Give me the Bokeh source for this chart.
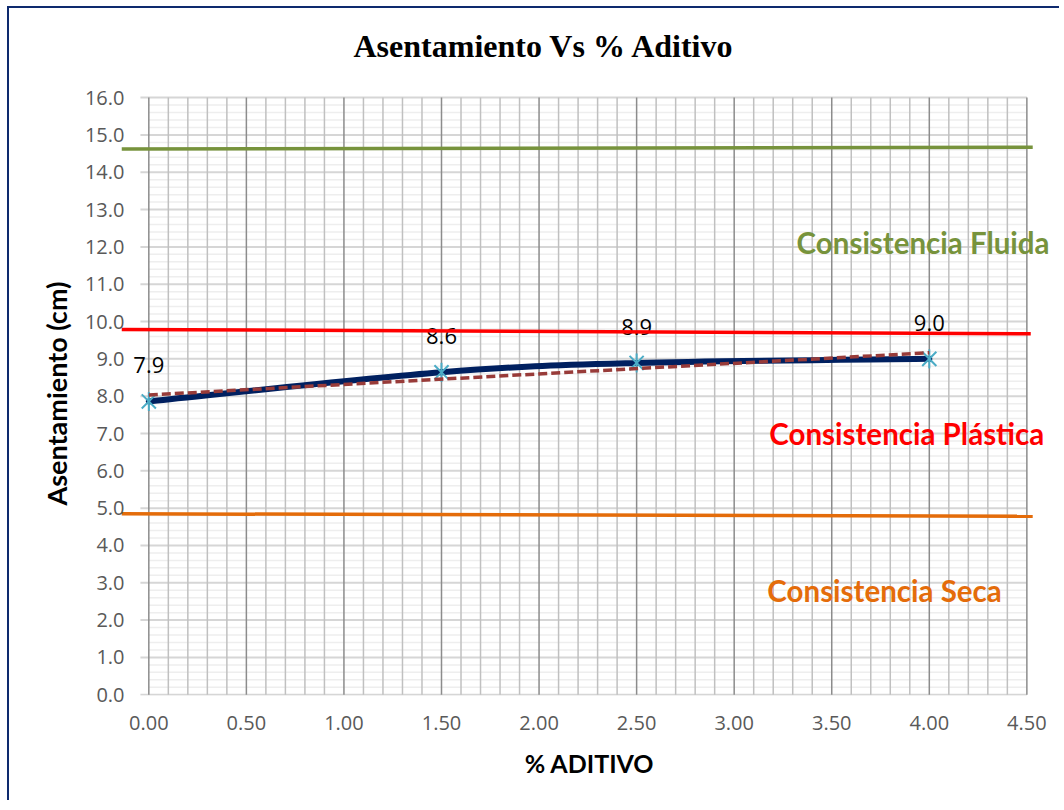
import numpy as np
from bokeh.plotting import figure
from bokeh.models import FixedTicker, Label, Range1d, NumeralTickFormatter, Title
from bokeh.core.properties import value
from bokeh.embed import file_html
from bokeh.resources import INLINE

# ---- data ----
titulo = "Asentamiento Vs % Aditivo"
titulo_y = "Asentamiento (cm)"
titulo_x = "% ADITIVO"
aditivo = [0.0, 1.5, 2.5, 4.0]
asentamiento = [7.86, 8.64, 8.89, 9.00]
etiquetas = [f"{v:.1f}" for v in asentamiento]

fluida_x = [-0.14, 4.53]
fluida_y = [14.62, 14.67]
plastica_x = [-0.14, 4.52]
plastica_y = [9.79, 9.67]
seca_x = [-0.14, 4.53]
seca_y = [4.85, 4.78]

x_ticks = [0.0, 0.5, 1.0, 1.5, 2.0, 2.5, 3.0, 3.5, 4.0, 4.5]
y_ticks = list(range(0, 17))

# ---- figure ----
p = figure(width=1052, height=794, output_backend="svg", toolbar_location=None,
           x_range=Range1d(-0.14, 4.657), y_range=Range1d(-0.02, 16.78),
           min_border_left=112, min_border_right=4, min_border_top=60,
           min_border_bottom=107)
p.styles = {"border-left": "2px solid #0E2A6E", "border-top": "2px solid #0E2A6E",
            "margin-left": "7px", "margin-top": "6px"}
p.outline_line_color = None
p.background_fill_color = "white"
p.xgrid.visible = False
p.ygrid.visible = False

p.title.text = titulo
p.title.text_font = "Liberation Serif"
p.title.text_font_style = "bold"
p.title.text_font_size = "32px"
p.title.text_color = "black"
p.title.align = "left"
p.title.offset = 232
p.title.standoff = 10

# axes
xa = p.xaxis[0]
xa.ticker = FixedTicker(ticks=x_ticks)
xa.formatter = NumeralTickFormatter(format="0.00")
xa.axis_line_color = None
xa.major_tick_line_color = None
xa.minor_tick_line_color = None
xa.major_label_text_font = "Open Sans"
xa.major_label_text_font_size = "20px"
xa.major_label_text_color = "#595959"
xa.major_label_standoff = 14
xa.axis_label = titulo_x
xa.axis_label_text_font = "Lato"
xa.axis_label_text_font_style = "bold"
xa.axis_label_text_font_size = "25px"
xa.axis_label_text_color = "black"
xa.axis_label_standoff = 15

ya = p.yaxis[0]
ya.ticker = FixedTicker(ticks=y_ticks)
ya.formatter = NumeralTickFormatter(format="0.0")
ya.axis_line_color = None
ya.major_tick_line_color = None
ya.minor_tick_line_color = None
ya.major_label_text_font = "Open Sans"
ya.major_label_text_font_size = "20px"
ya.major_label_text_color = "#595959"
ya.major_label_standoff = -9

# vertical axis title, centred on the 0-16 scale
p.add_layout(Title(text=titulo_y, align="left", offset=190, standoff=18,
                   text_font="Lato", text_font_style="bold",
                   text_font_size="27px", text_color="black"), "left")

# ---- grid lines drawn over the 0-16 / 0-4.5 area only ----
minor_x = [round(v, 2) for v in np.arange(0, 4.501, 0.1) if round(v * 10) % 5 != 0]
minor_y = [round(v, 2) for v in np.arange(0, 16.001, 0.2) if round(v * 10) % 10 != 0]
x_lo, x_hi = x_ticks[0], x_ticks[-1]
y_lo, y_hi = y_ticks[0], y_ticks[-1]

p.segment(x0=[x_lo] * len(minor_y), x1=[x_hi] * len(minor_y), y0=minor_y, y1=minor_y,
          line_color="#EEEEEE", line_width=1.5)
p.segment(x0=[x_lo - 0.043] * len(y_ticks), x1=[x_hi] * len(y_ticks), y0=y_ticks,
          y1=y_ticks, line_color="#D6D6D6", line_width=2)
p.segment(x0=minor_x, x1=minor_x, y0=[y_lo] * len(minor_x), y1=[y_hi] * len(minor_x),
          line_color="#C0C0C0", line_width=1.5)
p.segment(x0=x_ticks, x1=x_ticks, y0=[y_lo] * len(x_ticks), y1=[y_hi] * len(x_ticks),
          line_color="#8C8C8C", line_width=1.5)

# smoothed series (Catmull-Rom style Bezier through the data points)
xs = np.array(aditivo)
ys = np.array(asentamiento)
n = len(xs)
x0, y0, x1, y1, cx0, cy0, cx1, cy1 = ([] for _ in range(8))
for i in range(n - 1):
    im1 = max(i - 1, 0)
    ip2 = min(i + 2, n - 1)
    x0.append(xs[i]); y0.append(ys[i])
    x1.append(xs[i + 1]); y1.append(ys[i + 1])
    cx0.append(xs[i] + (xs[i + 1] - xs[im1]) / 6)
    cy0.append(ys[i] + (ys[i + 1] - ys[im1]) / 6)
    cx1.append(xs[i + 1] - (xs[ip2] - xs[i]) / 6)
    cy1.append(ys[i + 1] - (ys[ip2] - ys[i]) / 6)
p.bezier(x0=x0, y0=y0, x1=x1, y1=y1, cx0=cx0, cy0=cy0, cx1=cx1, cy1=cy1,
         line_color="#002060", line_width=6, line_cap="round")

# star markers (X plus vertical stroke)
p.scatter(aditivo, asentamiento, marker="x", size=20,
          line_color="#4BACC6", line_width=2)
p.scatter(aditivo, asentamiento, marker="dash", size=19, angle=np.pi / 2,
          line_color="#4BACC6", line_width=2)

# linear trend line
m, b = np.polyfit(xs, ys, 1)
tx = [xs.min(), xs.max()]
p.line(tx, [m * t + b for t in tx], line_color="#983B39", line_width=3.5,
       line_dash="9 4")

# data labels
p.text(x=aditivo, y=asentamiento, text=etiquetas, text_align="center",
       text_baseline="alphabetic", y_offset=-36, text_font=value("Open Sans"),
       text_font_size="22px", text_color="black")

# consistency limits
p.line(fluida_x, fluida_y, line_color="#77933C", line_width=3.5)
p.line(plastica_x, plastica_y, line_color="#FF0000", line_width=3.5)
p.line(seca_x, seca_y, line_color="#E46C0A", line_width=3.5)

for txt, x, y, c in [("Consistencia Fluida", 3.32, 12.12, "#77933C"),
                     ("Consistencia Plástica", 3.18, 7.0, "#FF0000"),
                     ("Consistencia Seca", 3.17, 2.8, "#E46C0A")]:
    p.add_layout(Label(x=x, y=y, text=txt, text_baseline="middle",
                       text_font="Lato", text_font_style="bold",
                       text_font_size="29.5px", text_color=c))

open("out.html", "w").write(file_html(p, INLINE))
